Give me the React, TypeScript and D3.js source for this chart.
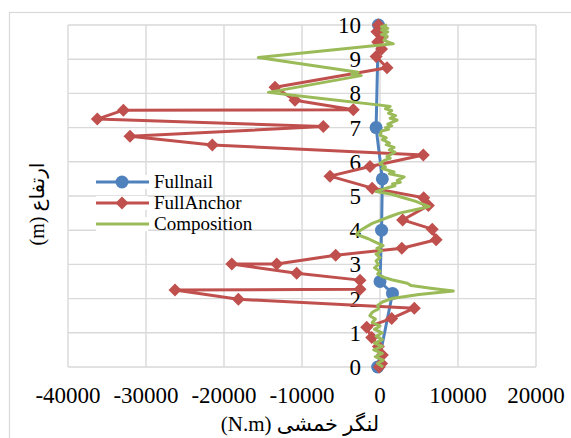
import React from "react";
import * as d3 from "d3";

const W = 571;
const H = 438;

const xTicks = [-40000, -30000, -20000, -10000, 0, 10000, 20000];
const yTicks = [0, 1, 2, 3, 4, 5, 6, 7, 8, 9, 10];

const seriesNames = ["Fullnail", "FullAnchor", "Composition"];
const seriesColors = ["#4F81BD", "#C0504D", "#9BBB59"];

// [moment (N.m), height (m)]
const fullnail: [number, number][] = [
  [-200, 10], [-500, 7], [300, 5.5], [200, 4], [0, 2.5], [1600, 2.15], [-300, 0],
];

const fullAnchor: [number, number][] = [
  [-200, 10], [-400, 9.8], [300, 9.65], [-300, 9.5], [200, 9.3], [-500, 9.08],
  [900, 8.75], [-13460, 8.18], [-10900, 7.8], [-3420, 7.52], [-32900, 7.51],
  [-36240, 7.25], [-7270, 7.03], [-32050, 6.75], [-21500, 6.49], [5550, 6.2],
  [-1280, 5.86], [-6410, 5.58], [-1000, 5.23], [5600, 4.95], [6200, 4.72],
  [2900, 4.3], [6700, 4.03], [7200, 3.72], [2800, 3.47], [-5680, 3.27],
  [-13240, 3.01], [-19000, 3.01], [-10680, 2.74], [-2560, 2.54], [-2560, 2.27],
  [-26280, 2.25], [-18160, 1.98], [4400, 1.72], [1500, 1.42], [-1710, 1.16],
  [-1060, 0.86], [-200, 0.6], [300, 0.35], [200, 0.1], [-100, 0],
];

const composition: [number, number][] = [
  [900, 10], [200, 9.95], [1000, 9.9], [200, 9.85], [1000, 9.8], [200, 9.72],
  [900, 9.68], [500, 9.55], [1700, 9.45], [-15600, 9.05], [-2800, 8.62],
  [-3600, 8.56], [-2400, 8.52], [-14300, 8.03], [-7500, 7.85], [300, 7.65],
  [1300, 7.62], [700, 7.55], [1500, 7.5], [1100, 7.42], [2000, 7.35],
  [1300, 7.27], [2200, 7.22], [1000, 7.1], [1500, 7.05], [700, 7.0], [1100, 6.95],
  [200, 6.9], [0, 6.78], [800, 6.7], [300, 6.65], [1200, 6.55], [800, 6.5],
  [1800, 6.42], [1200, 6.35], [1900, 6.28], [900, 6.15], [1300, 6.1], [600, 6.05],
  [0, 5.95], [700, 5.85], [300, 5.8], [1800, 5.7], [1200, 5.65], [3100, 5.56],
  [2200, 5.45], [2600, 5.4], [1600, 5.35], [1900, 5.3], [1100, 5.25], [-500, 5.13],
  [1500, 5.05], [3000, 4.95], [4500, 4.85], [6300, 4.69], [4500, 4.6], [2500, 4.5],
  [1300, 4.4], [-1000, 4.2], [-2500, 4.0], [-3000, 3.88], [-1500, 3.75],
  [-600, 3.65], [400, 3.55], [-400, 3.47], [200, 3.4], [-500, 3.3], [0, 3.2],
  [-500, 3.1], [-200, 3.0], [-700, 2.9], [0, 2.8], [-300, 2.72], [500, 2.62],
  [1500, 2.55], [3500, 2.45], [4000, 2.38], [6500, 2.3], [9400, 2.22],
  [5000, 2.12], [1500, 2.0], [300, 1.9], [-300, 1.8], [-200, 1.7], [-1000, 1.6],
  [-1300, 1.5], [-600, 1.4], [-1000, 1.3], [0, 1.2], [-700, 1.1], [300, 1.0],
  [-500, 0.9], [300, 0.8], [-700, 0.7], [300, 0.6], [-800, 0.5], [300, 0.4],
  [-600, 0.3], [400, 0.2], [-300, 0.1], [400, 0],
];

const xTitle = "لنگر خمشی (N.m)";
const yTitle = "ارتفاع (m)";

const FONT = "Liberation Serif, serif";
const FONT_FA = "Liberation Serif, DejaVu Sans, sans-serif";

export default function App() {
  const x = d3.scaleLinear().domain([-40000, 20000]).range([68, 536]);
  const y = d3.scaleLinear().domain([0, 10]).range([367, 25]);
  const line = d3
    .line<[number, number]>()
    .x((d) => x(d[0]))
    .y((d) => y(d[1]));

  const diamond = (cx: number, cy: number, r: number) =>
    `M${cx},${cy - r}L${cx + r},${cy}L${cx},${cy + r}L${cx - r},${cy}Z`;

  const legendY = [182, 203, 224];

  return (
    <svg
      width={W}
      height={H}
      style={{ position: "absolute", left: 0, top: 0, background: "#fff", fontFamily: FONT }}
    >
      <rect x={9.5} y={12.5} width={600} height={500} fill="#fff" stroke="#d9d9d9" strokeWidth={1.2} />
      {xTicks.map((t) => (
        <line key={"gx" + t} x1={x(t)} x2={x(t)} y1={y(10)} y2={y(0)} stroke="#d9d9d9" strokeWidth={1.4} />
      ))}
      {yTicks.map((t) => (
        <line key={"gy" + t} x1={x(-40000)} x2={x(20000)} y1={y(t)} y2={y(t)} stroke="#d9d9d9" strokeWidth={1.4} />
      ))}

      {yTicks.map((t) => (
        <text key={"yl" + t} x={x(0) - 19} y={y(t)} dy="0.35em" textAnchor="end" fontSize={23} fill="#000" style={{ fontFamily: FONT }}>
          {t}
        </text>
      ))}

      <path d={line(fullnail) || ""} fill="none" stroke={seriesColors[0]} strokeWidth={3} strokeLinejoin="round" />
      {fullnail.map((d, i) => (
        <circle key={"fn" + i} cx={x(d[0])} cy={y(d[1])} r={6.5} fill={seriesColors[0]} />
      ))}

      <path d={line(fullAnchor) || ""} fill="none" stroke={seriesColors[1]} strokeWidth={3} strokeLinejoin="round" />
      {fullAnchor.map((d, i) => (
        <path key={"fa" + i} d={diamond(x(d[0]), y(d[1]), 6.5)} fill={seriesColors[1]} />
      ))}

      <path d={line(composition) || ""} fill="none" stroke={seriesColors[2]} strokeWidth={3} strokeLinejoin="round" />

      {xTicks.map((t) => (
        <text key={"xl" + t} x={x(t)} y={403} textAnchor="middle" fontSize={23} fill="#000" style={{ fontFamily: FONT }}>
          {t}
        </text>
      ))}

      <text x={300} y={431} textAnchor="middle" fontSize={21} fill="#000" style={{ fontFamily: FONT_FA, direction: "rtl", unicodeBidi: "embed" }}>
        {xTitle}
      </text>
      <text
        transform={`translate(44,204) rotate(-90)`}
        textAnchor="middle"
        fontSize={20}
        fill="#000"
        style={{ fontFamily: FONT_FA, direction: "rtl", unicodeBidi: "embed" }}
      >
        {yTitle}
      </text>

      {seriesNames.map((n, i) => (
        <g key={"lg" + n}>
          <rect x={96} y={legendY[i] - 7} width={52} height={14} fill="#fff" />
          <line x1={96} x2={149} y1={legendY[i]} y2={legendY[i]} stroke={seriesColors[i]} strokeWidth={3} />
          {i === 0 && <circle cx={122} cy={legendY[i]} r={6.5} fill={seriesColors[0]} />}
          {i === 1 && <path d={diamond(122, legendY[i], 6.5)} fill={seriesColors[1]} />}
          <text x={154} y={legendY[i]} dy="0.33em" fontSize={19} fill="#000" style={{ fontFamily: FONT }}>
            {n}
          </text>
        </g>
      ))}
    </svg>
  );
}
